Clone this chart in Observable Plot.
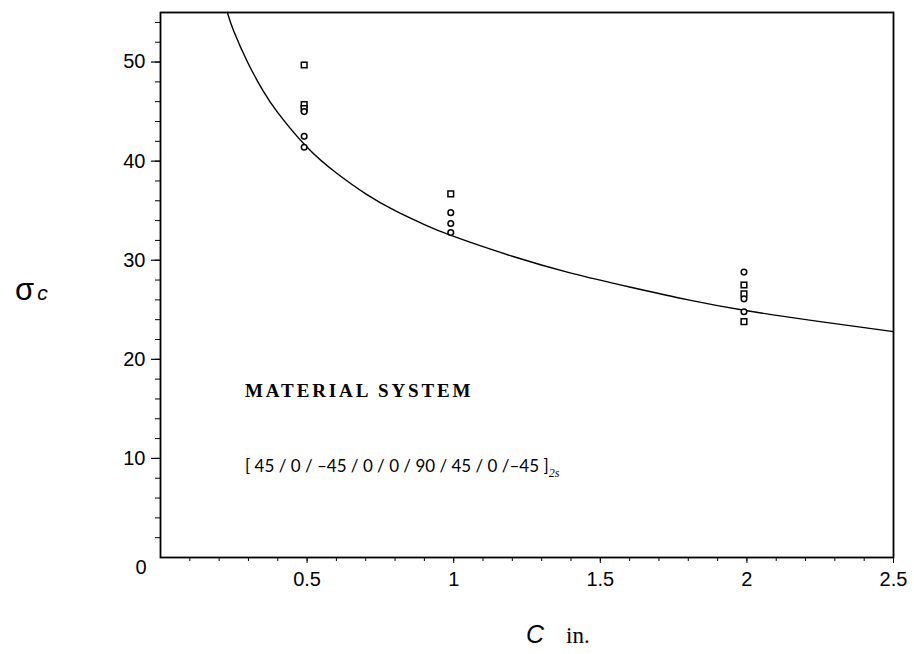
<!DOCTYPE html>
<html><head><meta charset="utf-8">
<script src="https://cdn.jsdelivr.net/npm/d3@7"></script>
<script src="https://cdn.jsdelivr.net/npm/@observablehq/plot@0.6"></script>
<style>
html,body{margin:0;padding:0;background:#fff;}
#chart{width:914px;height:654px;}
</style>
</head><body><div id="chart"></div>
<script>
// Fitted curve
const curveX = [0.228,0.25,0.3,0.35,0.4,0.5,0.6,0.7,0.8,0.9,1.0,1.2,1.4,1.6,1.8,2.0,2.25,2.5];
const curveY = [55,53.1,49.8,47.1,44.9,41.4,38.8,36.7,35.0,33.6,32.4,30.4,28.7,27.3,26.0,24.9,23.8,22.8];
// Test data: squares
const squareX = [0.49,0.49,0.49,0.99,1.99,1.99,1.99];
const squareY = [49.7,45.7,45.3,36.7,27.5,26.6,23.8];
// Test data: circles
const circleX = [0.49,0.49,0.49,0.99,0.99,0.99,1.99,1.99,1.99];
const circleY = [45.0,42.5,41.4,34.8,33.7,32.8,28.8,26.1,24.8];
// Tick labels
const xTicks = [0.5,1,1.5,2,2.5];
const xMinor = d3.range(1,26).map(i=>i/10);
const yTicks = [10,20,30,40,50];
const yMinor = d3.range(2,55,2);
// Annotations
const noteTitle = "MATERIAL SYSTEM";
const noteLayup = "[ 45 / 0 / \u201345 / 0 / 0 / 90 / 45 / 0 /\u201345 ]";
const noteSub = "2s";

const curve = curveX.map((x,i)=>({x, y:curveY[i]}));
const squares = squareX.map((x,i)=>({x, y:squareY[i]}));
const circles = circleX.map((x,i)=>({x, y:circleY[i]}));

const plot = Plot.plot({
  width: 914, height: 654,
  marginLeft: 160, marginRight: 21, marginTop: 12, marginBottom: 97,
  style: {fontFamily: "'Liberation Sans', Arial, sans-serif", fontSize: "20px", color: "#000", background: "#fff"},
  x: {domain: [0, 2.5], label: null},
  y: {domain: [0, 55], label: null},
  marks: [
    Plot.line(curve, {x:"x", y:"y", curve:"natural", stroke:"#000", strokeWidth:1.4}),
    Plot.dot(squares, {x:"x", y:"y", symbol:"square", r:3.2, stroke:"#000", fill:"#fff", strokeWidth:1.5}),
    Plot.dot(circles, {x:"x", y:"y", symbol:"circle", r:2.8, stroke:"#000", fill:"#fff", strokeWidth:1.5}),
    Plot.axisY(yMinor, {tickSize:5, tickFormat:()=>"", stroke:"#000", label:null}),
    Plot.axisY(yTicks, {tickSize:9, tickPadding:6, tickFormat:d=>String(d), stroke:"#000", strokeWidth:1.2, label:null, fontSize:20}),
    Plot.axisY([0], {tickSize:0, tickPadding:14, dy:10, tickFormat:d=>String(d), label:null, fontSize:20}),
    Plot.axisX(xMinor, {tickSize:4, tickFormat:()=>"", stroke:"#000", label:null}),
    Plot.axisX(xTicks, {tickSize:6, tickPadding:8, tickFormat:d=>String(d), stroke:"#000", label:null, fontSize:20}),
    Plot.frame({stroke:"#000", strokeWidth:1.8})
  ]
});
document.getElementById("chart").appendChild(plot);

const svg = d3.select(plot);
const sx = plot.scale("x"), sy = plot.scale("y");

// annotation texts
svg.append("text").attr("x", sx.apply(0.29)).attr("y", sy.apply(16.1))
  .attr("text-anchor", "start")
  .attr("font-family", "'Liberation Serif', 'Times New Roman', serif")
  .attr("font-weight", "bold").attr("font-size", 19).attr("letter-spacing", 2.9)
  .attr("fill", "#000").text(noteTitle);
const lay = svg.append("text").attr("x", sx.apply(0.29)).attr("y", sy.apply(8.6))
  .attr("text-anchor", "start")
  .attr("font-family", "Lato, 'DejaVu Sans', sans-serif").attr("font-size", 17).attr("fill", "#000");
lay.append("tspan").text(noteLayup);
lay.append("tspan").attr("dy", 5).attr("font-family", "'Liberation Serif', serif")
  .attr("font-style","italic").attr("font-size", 12).text(noteSub);

// axis titles
const yl = svg.append("text").attr("x", 15).attr("y", 300).attr("fill","#000")
  .attr("text-anchor", "start")
  .attr("font-family", "'Liberation Sans', Arial, sans-serif");
yl.append("tspan").attr("font-size", 31).text("\u03c3");
yl.append("tspan").attr("font-size", 21).attr("font-style","italic").attr("dx", 3).text("c");

const xl = svg.append("text").attr("x", 526).attr("y", 643).attr("fill","#000")
  .attr("text-anchor", "start");
xl.append("tspan").attr("font-family", "'Liberation Sans', Arial, sans-serif")
  .attr("font-size", 25).attr("font-style","italic").text("C");
xl.append("tspan").attr("font-family", "'Liberation Serif', 'Times New Roman', serif")
  .attr("font-size", 23).attr("dx", 22).text("in.");
</script>
</body></html>
